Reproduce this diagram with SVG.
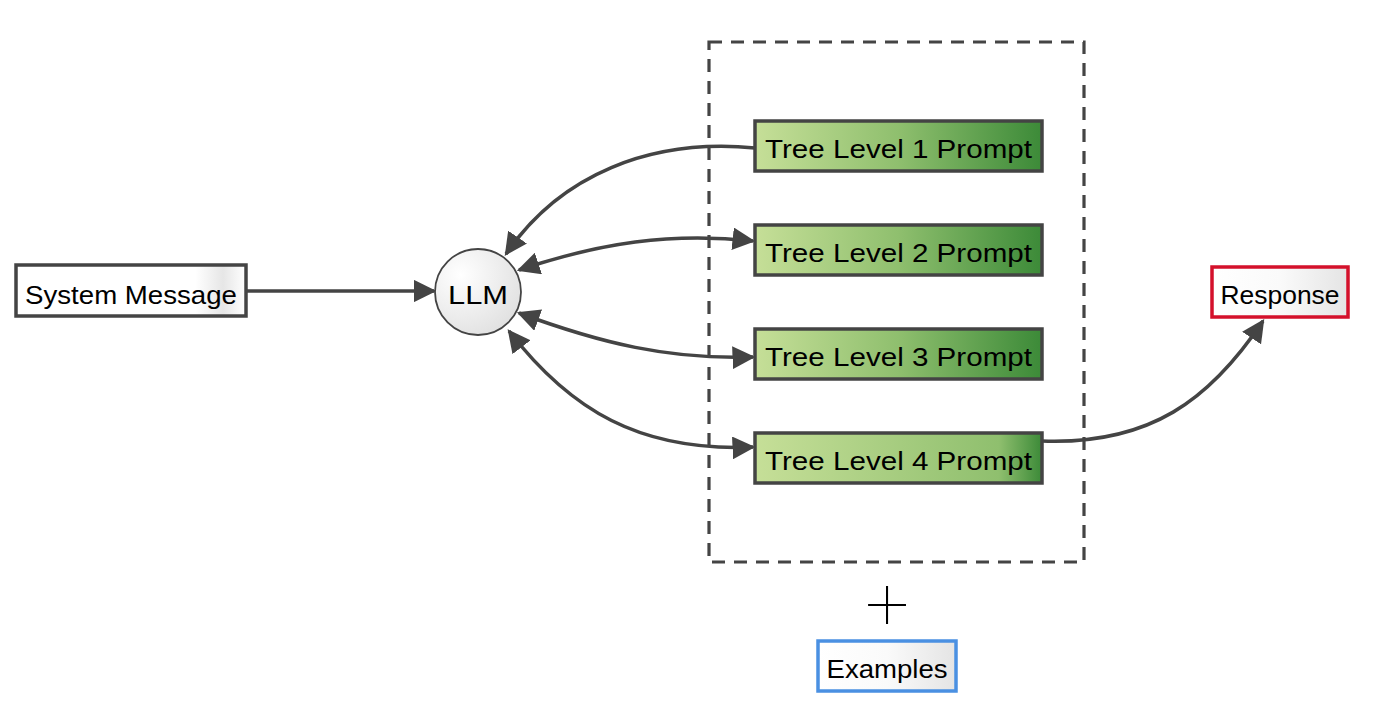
<svg xmlns="http://www.w3.org/2000/svg" width="1378" height="728" viewBox="0 0 1378 728">
<style>
.lbl{font-family:"Liberation Sans","DejaVu Sans",sans-serif;font-size:25px;fill:#000}
.edge{fill:none;stroke:#444;stroke-width:3.5}
.box{stroke:#444;stroke-width:3.5}
</style>
<defs>
<linearGradient id="gw" x1="0" x2="1" y1="0" y2="0"><stop offset="0" stop-color="#ffffff"/><stop offset="0.5" stop-color="#fafafa"/><stop offset="1" stop-color="#e4e4e4"/></linearGradient>
<linearGradient id="gs" x1="0" x2="1" y1="0" y2="0"><stop offset="0" stop-color="#ffffff"/><stop offset="0.78" stop-color="#ffffff"/><stop offset="0.9" stop-color="#e6e6e6"/><stop offset="1" stop-color="#ffffff"/></linearGradient>
<radialGradient id="gc" cx="0.3" cy="0.3" r="0.8"><stop offset="0" stop-color="#ffffff"/><stop offset="1" stop-color="#e0e0e0"/></radialGradient>
<linearGradient id="gg" x1="0" x2="1" y1="0" y2="0"><stop offset="0" stop-color="#c6df98"/><stop offset="0.5" stop-color="#8fbf6e"/><stop offset="1" stop-color="#3c8a38"/></linearGradient>
<linearGradient id="gg4" x1="0" x2="1" y1="0" y2="0"><stop offset="0" stop-color="#c6df98"/><stop offset="0.85" stop-color="#8fbf6e"/><stop offset="1" stop-color="#3c8a38"/></linearGradient>
<marker id="ah" viewBox="0 0 10 10" refX="9" refY="5" markerWidth="6.5" markerHeight="6.5" orient="auto-start-reverse" markerUnits="strokeWidth"><path d="M0,0 L10,5 L0,10 z" fill="#444"/></marker>
</defs>
<rect x="709" y="42" width="375" height="520" fill="none" stroke="#444" stroke-width="3.2" stroke-dasharray="13,9"/>
<g id="connectors">
<path class="edge" d="M246,291 L434,291" marker-end="url(#ah)"/>
<path class="edge" d="M755,148 C650,138 560,175 506,254" marker-end="url(#ah)"/>
<path class="edge" d="M519,270 C600,243 670,232 753,241" marker-start="url(#ah)" marker-end="url(#ah)"/>
<path class="edge" d="M519,313 C600,343 670,360 753,357" marker-start="url(#ah)" marker-end="url(#ah)"/>
<path class="edge" d="M509,331 C570,410 640,452 753,447" marker-start="url(#ah)" marker-end="url(#ah)"/>
<path class="edge" d="M1042,441 C1150,445 1210,400 1263,321" marker-end="url(#ah)"/>
</g>
<g id="system">
<rect class="box" x="16" y="265" width="230" height="51" fill="url(#gs)"/>
<text class="lbl" x="25" y="304" textLength="212" lengthAdjust="spacingAndGlyphs">System Message</text>
</g>
<g id="llm">
<circle cx="478" cy="292" r="43" fill="url(#gc)" stroke="#444" stroke-width="1.8"/>
<text class="lbl" x="478" y="304" text-anchor="middle" textLength="60" lengthAdjust="spacingAndGlyphs">LLM</text>
</g>
<g id="tree1">
<rect class="box" x="755" y="121" width="287" height="50" fill="url(#gg)"/>
<text class="lbl" x="765" y="158" textLength="267" lengthAdjust="spacingAndGlyphs">Tree Level 1 Prompt</text>
</g>
<g id="tree2">
<rect class="box" x="755" y="225" width="287" height="50" fill="url(#gg)"/>
<text class="lbl" x="765" y="262" textLength="267" lengthAdjust="spacingAndGlyphs">Tree Level 2 Prompt</text>
</g>
<g id="tree3">
<rect class="box" x="755" y="329" width="287" height="50" fill="url(#gg)"/>
<text class="lbl" x="765" y="366" textLength="267" lengthAdjust="spacingAndGlyphs">Tree Level 3 Prompt</text>
</g>
<g id="tree4">
<rect class="box" x="755" y="433" width="287" height="50" fill="url(#gg4)"/>
<text class="lbl" x="765" y="470" textLength="267" lengthAdjust="spacingAndGlyphs">Tree Level 4 Prompt</text>
</g>
<g id="response">
<rect x="1212" y="267" width="136" height="50" fill="url(#gw)" stroke="#d4112b" stroke-width="3.5"/>
<text class="lbl" x="1280" y="304" text-anchor="middle" textLength="119" lengthAdjust="spacingAndGlyphs">Response</text>
</g>
<g id="plus">
<text x="887" y="631" text-anchor="middle" font-family="Inter, 'DejaVu Sans', sans-serif" font-weight="100" font-size="92" fill="#000">+</text>
</g>
<g id="examples">
<rect x="818" y="641" width="138" height="50" fill="url(#gw)" stroke="#4a90e2" stroke-width="3.5"/>
<text class="lbl" x="887" y="678" text-anchor="middle" textLength="121" lengthAdjust="spacingAndGlyphs">Examples</text>
</g>
</svg>
